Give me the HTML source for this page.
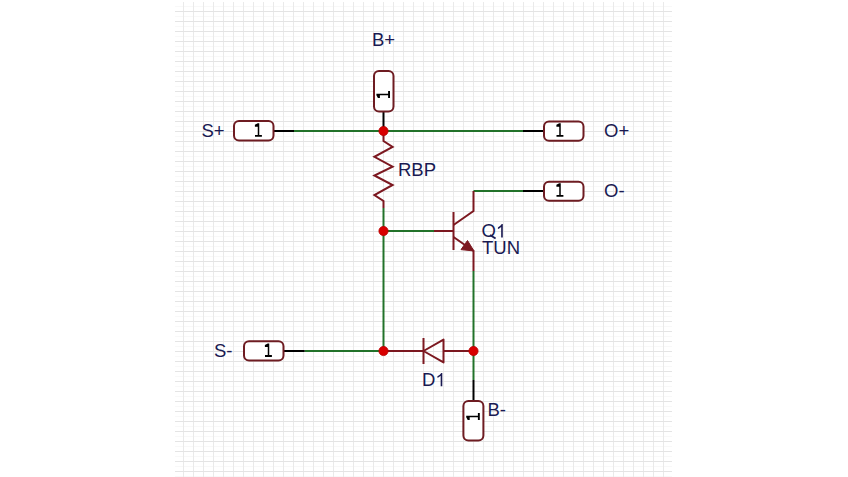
<!DOCTYPE html>
<html><head><meta charset="utf-8">
<style>
html,body{margin:0;padding:0;background:#fff;width:848px;height:477px;overflow:hidden}
svg{display:block}
.lbl{font-family:"Liberation Sans",sans-serif;font-size:18.5px;fill:#1a1a52}
.lblp{fill:#1a1a52}
</style></head><body>
<svg width="848" height="477" viewBox="0 0 848 477">
<defs>
<pattern id="g" x="3" y="0" width="10" height="10" patternUnits="userSpaceOnUse">
<path d="M0 6.5H10" stroke="#f8f8f8" stroke-width="1" fill="none"/>
<path d="M0.5 0V10" stroke="#eaeaea" stroke-width="1" fill="none"/>
<path d="M0 1.5H10" stroke="#e4e4e4" stroke-width="1" fill="none"/>
</pattern>
<g id="one"><path d="M0.75 -13.6V-1.9H3.4V0H-3.5V-1.9H-0.75V-10.1H-3.6V-12.1L-0.75 -13.6Z"/></g>
</defs>
<rect x="175" y="2" width="497" height="475" fill="url(#g)"/>
<!-- green wires -->
<g stroke="#22722a" stroke-width="2" fill="none">
<path d="M294 131H523"/>
<path d="M473.5 191H523"/>
<path d="M383.5 208V351"/>
<path d="M383.5 231H434"/>
<path d="M304.7 351H383.5"/>
<path d="M473.5 271V380"/>
</g>
<!-- black pins -->
<g stroke="#000" stroke-width="2" fill="none">
<path d="M273.5 131H294"/>
<path d="M523 131H544"/>
<path d="M523 191H544"/>
<path d="M283.6 351H304.7"/>
<path d="M383.5 111V131"/>
<path d="M473.5 380V401"/>
</g>
<!-- ports -->
<g stroke="#6e1c22" stroke-width="2" fill="#fff">
<rect x="234" y="121" width="39.5" height="19.6" rx="5"/>
<rect x="544" y="121.5" width="39.5" height="19.2" rx="5"/>
<rect x="544" y="181.7" width="39.5" height="19" rx="5"/>
<rect x="244" y="341.3" width="39.5" height="19.2" rx="5"/>
<rect x="374" y="71" width="19.5" height="40.4" rx="5"/>
<rect x="463.4" y="401" width="20" height="39.5" rx="5"/>
</g>
<!-- symbols -->
<g stroke="#7c1820" stroke-width="2" fill="none" stroke-linejoin="miter">
<path d="M383.5 131V141L392.6 147L374.4 156.8L392.6 166.6L374.4 175.5L392.6 185L374.4 195L383.5 201V208"/>
<path d="M434 231H453.5"/>
<path d="M453.5 212V250"/>
<path d="M453.5 225L473.5 211V191"/>
<path d="M453.5 237L473.5 251V271"/>
<path d="M383.5 351H423.5M443.5 351H473.5"/>
<path d="M423.5 338V364"/>
<path d="M443.5 339.6V362.4L423.5 351Z" stroke-linejoin="round"/>
</g>
<path d="M474 251L461 249.6L467.5 240.5Z" fill="#7c1820" stroke="#7c1820" stroke-width="1"/>
<!-- junctions -->
<g fill="#d80000" stroke="#b80000" stroke-width="0.8">
<circle cx="383.5" cy="131" r="4.6"/>
<circle cx="383.5" cy="231" r="4.6"/>
<circle cx="383.5" cy="351" r="4.6"/>
<circle cx="473.5" cy="351" r="4.6"/>
</g>
<!-- labels -->
<text class="lbl" x="372" y="46">B+</text>
<text class="lbl" x="201.5" y="136.7">S+</text>
<text class="lbl" x="604" y="136.6">O+</text>
<text class="lbl" x="604" y="196.6">O-</text>
<text class="lbl" x="398" y="176">RBP</text>
<text class="lbl" x="481.5" y="237.4">O</text>
<path d="M490 235L495.6 238.6" stroke="#1a1a52" stroke-width="1.8" fill="none"/>
<path class="lblp" transform="translate(495.9,237.4) scale(0.009033,-0.009033)" d="M763 0L583 0L583 1147Q518 1085 412 1023Q306 961 222 930L222 1104Q373 1175 486 1276Q599 1377 646 1472L763 1472Z"/>
<text class="lbl" x="482" y="254.4">TUN</text>
<text class="lbl" x="214" y="356.8">S-</text>
<text class="lbl" x="422" y="386">D</text>
<path class="lblp" transform="translate(435.4,386.2) scale(0.009033,-0.009033)" d="M763 0L583 0L583 1147Q518 1085 412 1023Q306 961 222 930L222 1104Q373 1175 486 1276Q599 1377 646 1472L763 1472Z"/>
<text class="lbl" x="487.5" y="415.6">B-</text>
<!-- port numbers -->
<g fill="#000">
<use href="#one" transform="translate(258.5,136.8)"/>
<use href="#one" transform="translate(560,136.8)"/>
<use href="#one" transform="translate(560,196.8)"/>
<use href="#one" transform="translate(268.5,357)"/>
<use href="#one" transform="translate(390,94.5) rotate(-90)"/>
<use href="#one" transform="translate(479.8,416.5) rotate(-90)"/>
</g>
</svg>
</body></html>
